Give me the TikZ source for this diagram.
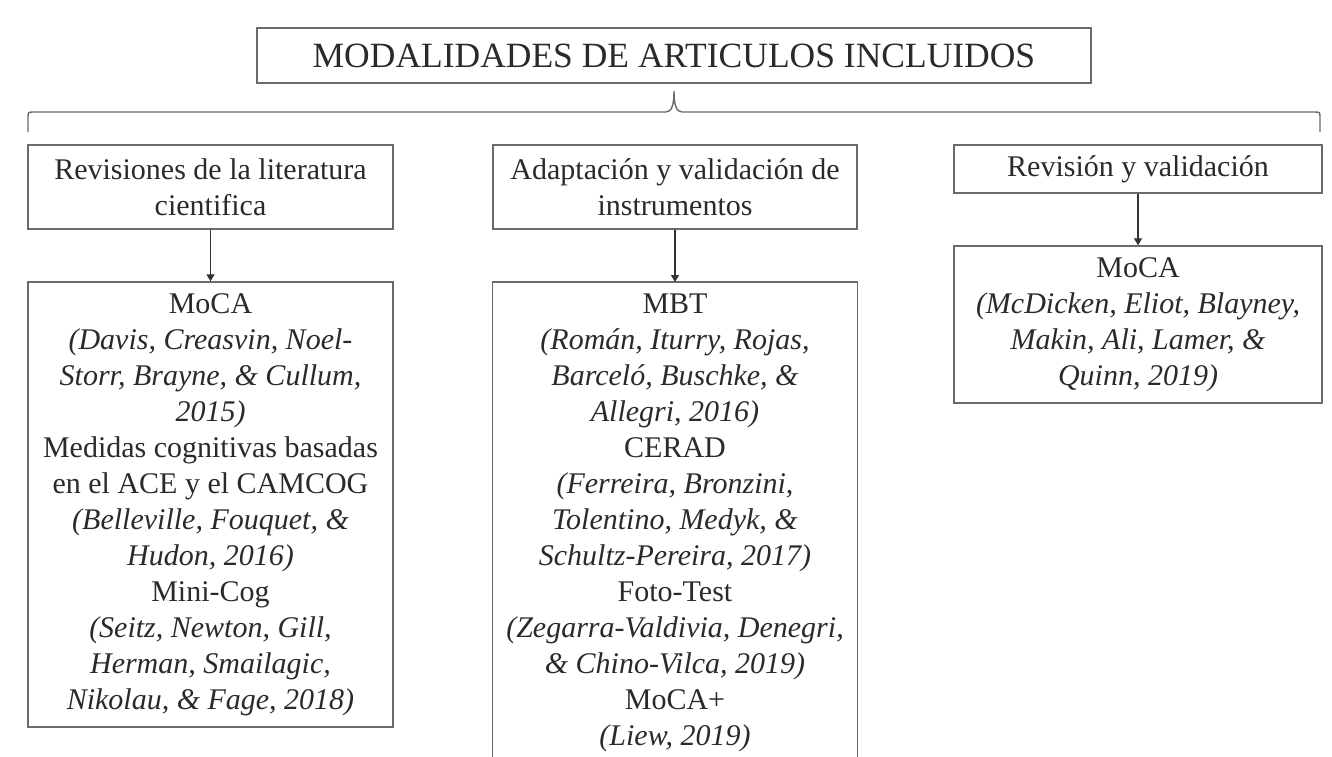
\documentclass[tikz,border=0pt]{standalone}
\usepackage{fontspec}
\setmainfont{Liberation Serif}
\definecolor{framegray}{HTML}{6A6A6A}
\definecolor{inkgray}{HTML}{2A2A2A}
\usetikzlibrary{arrows.meta}

\begin{document}
\begin{tikzpicture}[x=0.5pt, y=-0.5pt]
	\tikzstyle{frame}=[draw=framegray, line width=0.7pt, text=inkgray, inner sep=2pt, align=center, font=\fontsize{15}{18}\selectfont]
	\tikzstyle{headbox}=[frame, minimum width=417pt, minimum height=27.5pt, font=\fontsize{17.75}{21}\selectfont]
	\tikzstyle{linkarrow}=[-{Triangle[width=4pt,length=3.5pt]}, draw=black!80, line width=0.6pt]
	%page area
	\clip (0,0) rectangle (1332,756);
	%title box
	\node[headbox] (title) at (674,55.5) {MODALIDADES DE ARTICULOS INCLUIDOS};
	%brace under the title
	\draw[framegray, line width=0.7pt] (28,132) -- (28,118)
		.. controls (28,112) .. (34,112) -- (666,112)
		.. controls (672,112) and (674,104) .. (674,91)
		.. controls (674,104) and (676,112) .. (682,112) -- (1314,112)
		.. controls (1320,112) .. (1320,118) -- (1320,132);
	%%% CATEGORY BOXES %%%
	\node[frame, minimum width=182.5pt, minimum height=42pt] (revlit) at (210.5,187) {Revisiones de la literatura\\cientifica};
	\node[frame, minimum width=182pt, minimum height=42pt] (adapt) at (675,187) {Adaptación y validación de\\instrumentos};
	\node[frame, minimum width=184pt, minimum height=24pt] (revval) at (1138,169) {Revisión y validación};
	%%% LIST BOXES %%%
	%literature reviews
	\node[frame, minimum width=182.5pt, minimum height=222.5pt] (revlitlist) at (210.5,504.5) {MoCA\\
		\textit{(Davis, Creasvin, Noel-}\\
		\textit{Storr, Brayne, \& Cullum,}\\
		\textit{2015)}\\
		Medidas cognitivas basadas\\
		en el ACE y el CAMCOG\\
		\textit{(Belleville, Fouquet, \&}\\
		\textit{Hudon, 2016)}\\
		Mini-Cog\\
		\textit{(Seitz, Newton, Gill,}\\
		\textit{Herman, Smailagic,}\\
		\textit{Nikolau, \& Fage, 2018)}};
	%adaptation and validation (runs off the page)
	\node[frame, draw=none, inner ysep=5.5pt, minimum width=182pt, anchor=north] (adaptlist) at (675,282) {MBT\\
		\textit{(Román, Iturry, Rojas,}\\
		\textit{Barceló, Buschke, \&}\\
		\textit{Allegri, 2016)}\\
		CERAD\\
		\textit{(Ferreira, Bronzini,}\\
		\textit{Tolentino, Medyk, \&}\\
		\textit{Schultz-Pereira, 2017)}\\
		Foto-Test\\
		\textit{(Zegarra-Valdivia, Denegri,}\\
		\textit{\& Chino-Vilca, 2019)}\\
		MoCA+\\
		\textit{(Liew, 2019)}};
	\draw[framegray, line width=0.7pt] (adaptlist.north west) rectangle ([yshift=-20pt]adaptlist.south east);
	%review and validation
	\node[frame, minimum width=184pt, minimum height=78.5pt] (revvallist) at (1138,324.5) {MoCA\\
		\textit{(McDicken, Eliot, Blayney,}\\
		\textit{Makin, Ali, Lamer, \&}\\
		\textit{Quinn, 2019)}};
	%arrows down
	\draw[linkarrow] (revlit) -- (revlitlist);
	\draw[linkarrow] (adapt) -- (adaptlist);
	\draw[linkarrow] (revval) -- (revvallist);
\end{tikzpicture}
\end{document}
